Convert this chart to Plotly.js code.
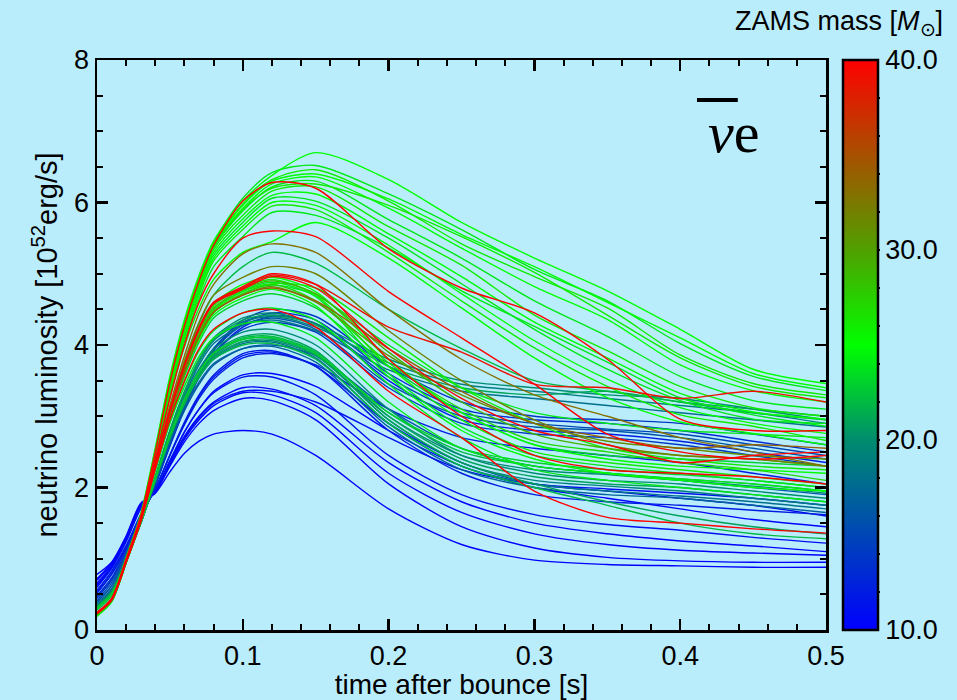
<!DOCTYPE html>
<html><head><meta charset="utf-8">
<script src="https://cdn.plot.ly/plotly-3.0.1.min.js"></script>
<style>html,body{margin:0;padding:0;background:#B9EDFC;}</style>
</head><body><div id="chart" style="width:957px;height:700px;"></div>
<script>
// time after bounce [s]
const timeAfterBounce = [0,0.01,0.02,0.03,0.04,0.05,0.06,0.07,0.08,0.10,0.12,0.15,0.20,0.25,0.30,0.35,0.40,0.45,0.50];

// ZAMS masses of each model (Msun), same order as luminosity arrays below
const zamsMass = [25,24,26,25,24,26,25,24,25,26,25,24,26,25,40,
                  40,33,22,32,
                  39,40,40,25,26,29,24,27,31,25,23,26,34,24,
                  40,24,
                  20,19,21,18,
                  14,13,15,16,12,14,
                  20,21,19,22,18,20,23,17,21,22,16,24,
                  11,12,10,11,10,10,10,10,11,12];

// neutrino luminosity [1e52 erg/s]
const lumA01 = [0.20,0.43,1.02,1.63,2.56,3.56,4.36,4.98,5.46,6.02,6.38,6.70,6.32,5.72,5.22,4.76,4.22,3.66,3.46];
const lumA02 = [0.19,0.42,1.00,1.61,2.53,3.52,4.32,4.95,5.44,6.06,6.42,6.52,6.12,5.62,5.06,4.62,4.02,3.56,3.36];
const lumA03 = [0.21,0.41,0.99,1.60,2.52,3.50,4.30,4.93,5.42,5.98,6.32,6.46,6.02,5.42,4.96,4.52,3.86,3.46,3.30];
const lumA04 = [0.20,0.42,1.00,1.60,2.50,3.48,4.28,4.90,5.40,5.92,6.26,6.36,5.92,5.36,4.82,4.36,3.72,3.36,3.20];
const lumA05 = [0.22,0.42,0.98,1.58,2.48,3.46,4.25,4.88,5.37,5.88,6.22,6.30,5.76,5.22,4.62,4.12,3.56,3.22,3.10];
const lumA06 = [0.21,0.41,0.98,1.58,2.47,3.44,4.22,4.85,5.34,5.82,6.16,6.22,5.66,5.12,4.42,3.92,3.42,3.12,3.00];
const lumA07 = [0.20,0.40,0.97,1.57,2.45,3.42,4.20,4.82,5.30,5.77,6.10,6.12,5.56,4.96,4.32,3.82,3.32,3.06,2.96];
const lumA08 = [0.22,0.41,0.97,1.56,2.44,3.40,4.17,4.78,5.26,5.72,6.06,6.02,5.50,4.86,4.22,3.66,3.22,2.96,2.90];
const lumA09 = [0.21,0.40,0.96,1.55,2.42,3.37,4.13,4.74,5.22,5.67,6.00,5.96,5.40,4.72,4.06,3.52,3.12,2.90,2.76];
const lumA10 = [0.20,0.40,0.96,1.55,2.40,3.34,4.10,4.70,5.18,5.62,5.95,5.90,5.30,4.62,3.96,3.42,3.02,2.86,2.66];
const lumA11 = [0.21,0.40,0.95,1.53,2.36,3.26,3.98,4.52,4.92,5.30,5.45,5.72,5.22,4.52,3.82,3.26,2.92,2.76,2.60];
const lumA12 = [0.22,0.40,0.95,1.54,2.38,3.30,4.05,4.64,5.10,5.52,5.86,5.82,5.36,4.76,4.26,3.76,3.26,3.02,2.86];
const lumA13 = [0.20,0.41,0.99,1.59,2.49,3.47,4.26,4.89,5.38,5.90,6.20,6.26,5.96,5.52,5.02,4.42,3.82,3.42,3.26];
const lumA14 = [0.21,0.42,1.00,1.60,2.51,3.50,4.29,4.92,5.41,5.96,6.30,6.40,6.05,5.55,5.10,4.60,4.10,3.60,3.40];
const lumA15 = [0.24,0.44,1.00,1.60,2.50,3.48,4.27,4.90,5.40,6.02,6.28,6.20,5.35,4.80,4.45,3.80,2.96,2.80,2.80];

const lumB01 = [0.24,0.43,0.97,1.56,2.40,3.25,4.00,4.60,5.00,5.50,5.60,5.52,4.75,4.10,3.45,2.75,2.50,2.40,2.45];
const lumB02 = [0.23,0.42,0.96,1.55,2.36,3.15,3.85,4.45,4.85,5.28,5.42,5.30,4.50,3.80,3.30,3.00,2.70,2.50,2.30];
const lumB03 = [0.28,0.48,0.98,1.52,2.30,3.05,3.75,4.30,4.70,5.10,5.30,5.15,4.50,3.95,3.50,3.35,3.20,3.05,2.95];
const lumB04 = [0.23,0.42,0.96,1.55,2.33,3.10,3.78,4.32,4.70,4.95,5.10,5.00,4.20,3.50,2.95,2.60,2.45,2.40,2.30];

const lumM01 = [0.23,0.42,0.96,1.54,2.32,3.08,3.72,4.25,4.60,4.80,4.98,4.85,4.25,3.90,3.45,3.40,3.25,3.35,3.20];
const lumM02 = [0.24,0.42,0.96,1.54,2.32,3.06,3.70,4.22,4.58,4.78,4.96,4.80,3.95,3.25,2.80,2.60,2.35,2.45,2.50];
const lumM03 = [0.24,0.43,0.96,1.54,2.33,3.08,3.72,4.24,4.60,4.82,5.00,4.85,3.80,3.00,2.45,2.25,2.20,2.15,2.05];
const lumM04 = [0.21,0.41,0.95,1.53,2.32,3.06,3.70,4.22,4.58,4.85,4.95,4.75,3.80,3.05,2.60,2.40,2.30,2.25,2.20];
const lumM05 = [0.21,0.41,0.95,1.53,2.31,3.05,3.68,4.20,4.55,4.80,4.92,4.70,3.70,2.95,2.50,2.35,2.25,2.15,2.05];
const lumM06 = [0.22,0.42,0.95,1.53,2.31,3.04,3.66,4.18,4.52,4.78,4.90,4.72,3.90,3.20,2.75,2.55,2.45,2.40,2.30];
const lumM07 = [0.21,0.41,0.95,1.53,2.30,3.03,3.64,4.15,4.50,4.76,4.88,4.68,3.60,2.85,2.45,2.30,2.20,2.10,2.00];
const lumM08 = [0.22,0.42,0.95,1.53,2.30,3.02,3.62,4.12,4.46,4.72,4.85,4.62,3.75,3.10,2.65,2.50,2.35,2.25,2.10];
const lumM09 = [0.23,0.42,0.95,1.53,2.30,3.02,3.62,4.12,4.46,4.70,4.82,4.60,3.85,3.30,2.90,2.65,2.55,2.45,2.40];
const lumM10 = [0.21,0.41,0.95,1.53,2.29,3.00,3.60,4.08,4.42,4.66,4.78,4.55,3.55,2.80,2.40,2.20,2.10,2.00,1.95];
const lumM11 = [0.24,0.43,0.95,1.52,2.28,2.98,3.56,4.04,4.38,4.62,4.72,4.52,3.70,3.05,2.60,2.45,2.40,2.35,2.30];
const lumM12 = [0.21,0.41,0.95,1.53,2.30,3.02,3.62,4.12,4.48,4.75,4.86,4.80,4.10,3.40,2.90,2.55,2.40,2.30,2.25];
const lumM13 = [0.23,0.42,0.95,1.53,2.30,3.02,3.62,4.12,4.46,4.70,4.80,4.62,3.95,3.35,2.90,2.70,2.55,2.60,2.55];
const lumM14 = [0.21,0.41,0.95,1.53,2.30,3.02,3.62,4.12,4.46,4.72,4.84,4.70,4.00,3.40,3.05,2.90,2.80,2.75,2.70];

const lumL01 = [0.25,0.44,0.96,1.52,2.26,2.95,3.50,3.95,4.22,4.45,4.50,4.25,3.35,2.70,1.95,1.58,1.50,1.42,1.36];
const lumL02 = [0.22,0.42,0.95,1.52,2.24,2.92,3.48,3.92,4.20,4.45,4.52,4.35,3.45,2.70,2.25,2.10,2.00,1.90,1.80];

const lumT01 = [0.32,0.52,0.98,1.50,2.15,2.80,3.35,3.80,4.10,4.38,4.45,4.30,3.80,3.50,3.40,3.30,3.25,3.10,2.95];
const lumT02 = [0.33,0.53,0.99,1.50,2.14,2.78,3.32,3.76,4.06,4.32,4.40,4.25,3.75,3.45,3.35,3.25,3.15,3.05,2.90];
const lumT03 = [0.31,0.51,0.98,1.50,2.15,2.80,3.34,3.78,4.08,4.35,4.42,4.28,3.70,3.40,3.30,3.35,3.20,3.10,3.00];
const lumT04 = [0.35,0.55,1.00,1.51,2.13,2.76,3.28,3.72,4.02,4.28,4.35,4.20,3.65,3.35,3.25,3.15,3.05,2.95,2.85];

const lumU01 = [0.45,0.70,1.10,1.56,2.05,2.62,3.15,3.62,3.95,4.35,4.50,4.40,3.70,3.20,3.00,2.95,2.90,2.75,2.60];
const lumU02 = [0.48,0.73,1.12,1.57,2.04,2.60,3.12,3.58,3.92,4.30,4.45,4.35,3.60,3.10,2.95,2.90,2.80,2.65,2.50];
const lumU03 = [0.42,0.66,1.08,1.55,2.06,2.64,3.16,3.62,3.95,4.32,4.42,4.30,3.55,3.05,2.90,2.82,2.75,2.60,2.45];
const lumU04 = [0.40,0.62,1.05,1.54,2.08,2.66,3.18,3.62,3.94,4.28,4.38,4.22,3.45,3.00,2.85,2.80,2.70,2.55,2.40];
const lumU05 = [0.52,0.78,1.15,1.58,2.03,2.58,3.10,3.55,3.88,4.25,4.40,4.30,3.50,2.95,2.80,2.75,2.65,2.50,2.35];
const lumU06 = [0.46,0.70,1.10,1.56,2.05,2.60,3.12,3.56,3.88,4.22,4.32,4.18,3.40,2.90,2.75,2.70,2.60,2.45,2.30];

const lumV01 = [0.34,0.54,0.99,1.50,2.12,2.74,3.26,3.66,3.94,4.18,4.22,4.00,3.10,2.45,2.20,2.10,2.05,1.95,1.85];
const lumV02 = [0.32,0.52,0.98,1.50,2.12,2.72,3.22,3.62,3.90,4.12,4.15,3.92,3.00,2.40,2.15,2.05,2.00,1.90,1.80];
const lumV03 = [0.35,0.55,0.99,1.50,2.10,2.70,3.20,3.58,3.86,4.08,4.10,3.88,2.95,2.35,2.10,2.02,1.95,1.85,1.75];
const lumV04 = [0.31,0.51,0.98,1.50,2.12,2.72,3.22,3.62,3.88,4.10,4.12,3.90,3.05,2.50,2.30,2.20,2.12,2.05,1.95];
const lumV05 = [0.36,0.56,1.00,1.50,2.09,2.68,3.16,3.54,3.80,4.02,4.04,3.82,2.90,2.30,2.05,1.95,1.88,1.80,1.70];
const lumV06 = [0.33,0.53,0.98,1.50,2.10,2.70,3.18,3.56,3.82,4.04,4.06,3.85,3.00,2.45,2.25,2.18,2.10,2.02,1.92];
const lumV07 = [0.30,0.50,0.97,1.51,2.13,2.74,3.24,3.62,3.88,4.08,4.10,3.88,3.05,2.55,2.35,2.25,2.18,2.10,2.00];
const lumV08 = [0.38,0.58,1.01,1.50,2.08,2.66,3.12,3.48,3.74,3.95,3.98,3.76,2.85,2.25,2.00,1.90,1.85,1.75,1.65];
const lumV09 = [0.32,0.52,0.98,1.50,2.11,2.71,3.20,3.58,3.84,4.05,4.08,3.86,2.95,2.35,2.05,1.80,1.60,1.45,1.35];
const lumV10 = [0.31,0.51,0.98,1.50,2.11,2.70,3.18,3.55,3.80,4.00,4.02,3.80,2.90,2.30,2.00,1.75,1.50,1.35,1.28];
const lumV11 = [0.40,0.62,1.04,1.52,2.06,2.62,3.08,3.45,3.72,3.95,4.00,3.85,3.10,2.55,2.30,2.20,2.10,2.00,1.90];
const lumV12 = [0.22,0.42,0.95,1.52,2.24,2.90,3.42,3.84,4.10,4.30,4.32,4.10,3.20,2.55,2.30,2.20,2.12,2.05,1.95];

const lumW01 = [0.55,0.82,1.18,1.62,1.98,2.45,2.90,3.28,3.55,3.85,3.90,3.70,2.90,2.35,2.05,1.95,1.85,1.75,1.60];
const lumW02 = [0.52,0.78,1.15,1.60,1.98,2.46,2.92,3.30,3.58,3.88,3.92,3.70,2.80,2.20,1.90,1.80,1.75,1.68,1.62];
const lumW03 = [0.62,0.88,1.26,1.72,1.95,2.36,2.78,3.10,3.35,3.58,3.60,3.42,2.80,2.30,2.00,1.85,1.70,1.55,1.45];
const lumW04 = [0.60,0.86,1.24,1.70,1.96,2.38,2.78,3.10,3.33,3.55,3.55,3.30,2.45,1.90,1.62,1.48,1.40,1.30,1.22];
const lumW05 = [0.66,0.90,1.28,1.74,1.95,2.35,2.72,3.00,3.20,3.40,3.38,3.15,2.35,1.80,1.50,1.35,1.25,1.18,1.10];
const lumW06 = [0.70,0.92,1.30,1.76,1.94,2.32,2.68,2.95,3.15,3.33,3.30,3.05,2.20,1.65,1.35,1.20,1.12,1.08,1.05];
const lumW07 = [0.72,0.94,1.30,1.76,1.93,2.30,2.64,2.90,3.08,3.25,3.22,2.95,2.05,1.45,1.15,1.02,0.97,0.95,0.95];
const lumW08 = [0.78,0.95,1.32,1.78,1.92,2.22,2.48,2.65,2.75,2.80,2.75,2.45,1.70,1.20,0.98,0.92,0.90,0.88,0.88];
const lumW09 = [0.64,0.88,1.26,1.72,1.95,2.34,2.70,2.98,3.18,3.35,3.35,3.20,2.70,2.25,2.05,1.98,1.92,1.85,1.75];
const lumW10 = [0.56,0.82,1.18,1.62,1.98,2.45,2.88,3.25,3.52,3.82,3.88,3.72,3.10,2.70,2.55,2.45,2.35,2.20,2.05];

const luminosities = [lumA01,lumA02,lumA03,lumA04,lumA05,lumA06,lumA07,lumA08,lumA09,lumA10,lumA11,lumA12,lumA13,lumA14,lumA15,
  lumB01,lumB02,lumB03,lumB04,
  lumM01,lumM02,lumM03,lumM04,lumM05,lumM06,lumM07,lumM08,lumM09,lumM10,lumM11,lumM12,lumM13,lumM14,
  lumL01,lumL02,
  lumT01,lumT02,lumT03,lumT04,
  lumU01,lumU02,lumU03,lumU04,lumU05,lumU06,
  lumV01,lumV02,lumV03,lumV04,lumV05,lumV06,lumV07,lumV08,lumV09,lumV10,lumV11,lumV12,
  lumW01,lumW02,lumW03,lumW04,lumW05,lumW06,lumW07,lumW08,lumW09,lumW10];

const colorbarTickVals = [10,20,30,40];
const colorbarTickText = ['10.0','20.0','30.0','40.0'];

const massMin = 10, massMax = 40;
// colour stops (fraction of mass range, rgb)
const stopFrac = [0, 1/3, 0.5, 2/3, 1];
const stopRGB = [[0,0,255],[0,140,110],[0,255,0],[80,160,0],[255,0,0]];
const cscale = stopFrac.map((f,i)=>[f,'rgb('+stopRGB[i].join(',')+')']);
function massColor(m){
  const f = Math.max(0, Math.min(1, (m-massMin)/(massMax-massMin)));
  let k = 0;
  while (k < stopFrac.length-2 && f > stopFrac[k+1]) k++;
  const u = (f-stopFrac[k])/(stopFrac[k+1]-stopFrac[k]);
  const c = [0,1,2].map(j=>Math.round(stopRGB[k][j] + u*(stopRGB[k+1][j]-stopRGB[k][j])));
  return 'rgb('+c.join(',')+')';
}

const order = zamsMass.map((m,i)=>i).sort((a,b)=>zamsMass[a]-zamsMass[b]);
const traces = order.map(i => ({
  type:'scatter', mode:'lines', x: timeAfterBounce, y: luminosities[i],
  line:{color: massColor(zamsMass[i]), width:1.4, shape:'spline', smoothing:0.8},
  hoverinfo:'skip', showlegend:false
}));

const FONT = 'Liberation Sans, Arial, sans-serif';

// colorbar carrier
traces.push({
  type:'scatter', mode:'markers', x:[0.25,0.25], y:[-5,-5],
  marker:{size:1, opacity:0, color:[massMin,massMax], cmin:massMin, cmax:massMax, colorscale:cscale, showscale:true,
    colorbar:{x:1.0233, xanchor:'left', xpad:0, y:0.5, yanchor:'middle', ypad:0, len:1, lenmode:'fraction',
      thickness:35, thicknessmode:'pixels', outlinewidth:2.5, outlinecolor:'black',
      tickmode:'array', tickvals:colorbarTickVals, ticktext:colorbarTickText, ticks:'',
      tickfont:{family:FONT, size:27, color:'black'}}},
  hoverinfo:'skip', showlegend:false
});

const shapes = [];
// colorbar inner ticks on both sides
const cbL = 1.0233, cbR = cbL + 37/729;
for (let v = 12; v < 40; v += 2){
  const len = (v===20||v===30) ? 13/729 : 7/729;
  const yy = (v-massMin)/(massMax-massMin);
  shapes.push({type:'line', xref:'paper', yref:'paper', x0:cbL, x1:cbL+len, y0:yy, y1:yy, line:{color:'black', width:2}});
  shapes.push({type:'line', xref:'paper', yref:'paper', x0:cbR-len, x1:cbR, y0:yy, y1:yy, line:{color:'black', width:2}});
}
// overbar of the anti-neutrino symbol
shapes.push({type:'line', xref:'x', yref:'y', x0:0.4115, x1:0.4395, y0:7.44, y1:7.44, line:{color:'black', width:4}});

const layout = {
  width:957, height:700,
  paper_bgcolor:'#B9EDFC', plot_bgcolor:'#B9EDFC',
  margin:{l:97, r:131, t:60, b:70},
  font:{family:FONT, color:'black', size:27},
  xaxis:{range:[0,0.5], dtick:0.1, tick0:0, ticks:'inside', ticklen:11, tickwidth:2.5, tickcolor:'black',
    minor:{dtick:0.02, ticks:'inside', ticklen:6, tickwidth:2, tickcolor:'black'},
    showline:true, linewidth:2.5, linecolor:'black', mirror:'ticks', showgrid:false, zeroline:false,
    tickfont:{size:27}, title:{text:'time after bounce [s]', font:{size:28}, standoff:4}},
  yaxis:{range:[0,8], dtick:2, tick0:0, ticks:'inside', ticklen:11, tickwidth:2.5, tickcolor:'black',
    minor:{dtick:0.5, ticks:'inside', ticklen:6, tickwidth:2, tickcolor:'black'},
    showline:true, linewidth:2.5, linecolor:'black', mirror:'ticks', showgrid:false, zeroline:false,
    tickfont:{size:27}, title:{text:'neutrino luminosity [10<sup>52</sup>erg/s]', font:{size:29}, standoff:8}},
  shapes: shapes,
  annotations:[
    {xref:'paper', yref:'paper', x:1.163, y:1.065, xanchor:'right', yanchor:'middle', showarrow:false,
     text:'ZAMS mass [<i>M</i><sub>⊙</sub>]', font:{family:FONT, size:27, color:'black'}},
    {xref:'x', yref:'y', x:0.437, y:6.98, xanchor:'center', yanchor:'middle', showarrow:false,
     text:'<i>ν</i>e', font:{family:'Liberation Serif, Times New Roman, serif', size:58, color:'black'}}
  ]
};

Plotly.newPlot('chart', traces, layout, {displayModeBar:false, staticPlot:true});
</script>
</body></html>
